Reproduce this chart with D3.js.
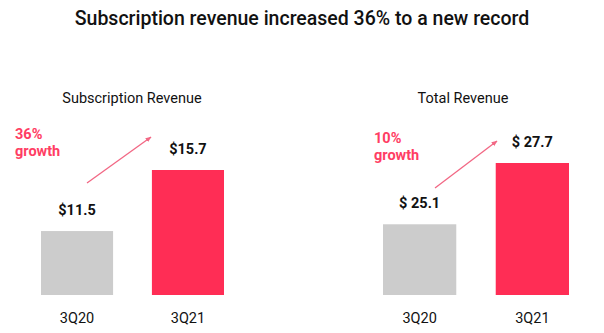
<!DOCTYPE html>
<html>
<head>
<meta charset="utf-8">
<script src="https://cdn.jsdelivr.net/npm/d3@7"></script>
<style>
  html, body { margin: 0; padding: 0; background: #fff; }
  svg { display: block; font-family: Roboto, "Noto Sans", sans-serif; }
</style>
</head>
<body>
<svg id="chart" width="604" height="333"></svg>
<script>
const title = "Subscription revenue increased 36% to a new record";
const categories = ["3Q20", "3Q21"];
const subscriptionValues = [11.5, 15.7];
const totalValues = [25.1, 27.7];
const subscriptionLabels = ["$11.5", "$15.7"];
const totalLabels = ["$ 25.1", "$ 27.7"];
const panelTitles = ["Subscription Revenue", "Total Revenue"];
const growthLabels = [["36%", "growth"], ["10%", "growth"]];

const svg = d3.select("#chart");
const grey = "#cccccc", red = "#ff2d55", pink = "#ff3d63", arrowCol = "#f26784";

svg.append("text").attr("x", 302).attr("y", 25).attr("text-anchor", "middle")
  .attr("font-size", 19.5).attr("font-weight", 500).attr("fill", "#111").text(title);

const defs = svg.append("defs");
defs.append("marker").attr("id", "ah").attr("viewBox", "0 0 10 10")
  .attr("refX", 9).attr("refY", 5).attr("markerWidth", 6).attr("markerHeight", 6)
  .attr("orient", "auto").attr("markerUnits", "userSpaceOnUse")
  .append("path").attr("d", "M0,1 L10,5 L0,9 Z").attr("fill", arrowCol);

const panels = [
  { values: subscriptionValues, labels: subscriptionLabels, title: panelTitles[0], growth: growthLabels[0],
    xRange: [41, 224], yDomain: [7.1, 15.7], titleX: 132, growthX: 15, growthY: 139,
    arrow: [[87, 183], [151, 137]] },
  { values: totalValues, labels: totalLabels, title: panelTitles[1], growth: growthLabels[1],
    xRange: [383, 569], yDomain: [22.1, 27.7], titleX: 463, growthX: 374, growthY: 143,
    arrow: [[435, 188], [497, 141]] }
];

const baseY = 295, topY = panels.map(p => 0);

panels.forEach(p => {
  const x = d3.scaleBand().domain(categories).range(p.xRange).paddingInner(0.35).paddingOuter(0);
  const vmax = p.values[1];
  const y = d3.scaleLinear().domain(p.yDomain).range([baseY, p === panels[0] ? 170 : 163]);
  const g = svg.append("g");

  g.append("text").attr("x", p.titleX).attr("y", 103).attr("text-anchor", "middle")
    .attr("font-size", 14.5).attr("fill", "#111").text(p.title);

  g.selectAll("rect").data(p.values).join("rect")
    .attr("x", (d, i) => x(categories[i]))
    .attr("width", x.bandwidth())
    .attr("y", d => y(d))
    .attr("height", d => baseY - y(d))
    .attr("fill", (d, i) => i === 0 ? grey : red);

  g.selectAll("text.val").data(p.values).join("text").attr("class", "val")
    .attr("x", (d, i) => x(categories[i]) + x.bandwidth() / 2)
    .attr("y", d => y(d) - 16)
    .attr("text-anchor", "middle").attr("font-size", 14.5).attr("font-weight", 700)
    .attr("fill", "#111").text((d, i) => p.labels[i]);

  g.selectAll("text.cat").data(categories).join("text").attr("class", "cat")
    .attr("x", d => x(d) + x.bandwidth() / 2)
    .attr("y", 323).attr("text-anchor", "middle").attr("font-size", 14.5)
    .attr("fill", "#111").text(d => d);

  g.selectAll("text.gr").data(p.growth).join("text").attr("class", "gr")
    .attr("x", p.growthX).attr("y", (d, i) => p.growthY + i * 17)
    .attr("font-size", 14.5).attr("font-weight", 700).attr("fill", pink).text(d => d);

  g.append("line")
    .attr("x1", p.arrow[0][0]).attr("y1", p.arrow[0][1])
    .attr("x2", p.arrow[1][0]).attr("y2", p.arrow[1][1])
    .attr("stroke", arrowCol).attr("stroke-width", 1.3).attr("marker-end", "url(#ah)");
});
</script>
</body>
</html>
